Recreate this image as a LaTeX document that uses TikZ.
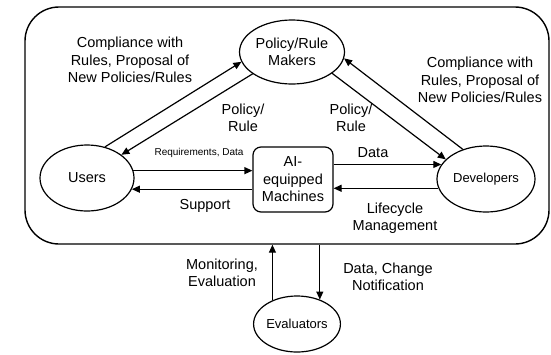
\documentclass[tikz,border=0pt]{standalone}
\usepackage{fontspec}
\setmainfont{Liberation Sans}
\usetikzlibrary{shapes.geometric,arrows.meta}
\begin{document}
\begin{tikzpicture}[x=1pt,y=-1pt,
  ell/.style={draw, ellipse, line width=1.2pt, inner sep=0pt, align=center},
  big/.style={font=\fontsize{14.5}{17.5}\selectfont},
  mid/.style={font=\fontsize{13}{15}\selectfont},
  lab/.style={align=center, inner sep=0pt, big},
  arr/.style={line width=1.2pt, -{Triangle[length=8pt,width=7pt]}},
]
\useasboundingbox (0,0) rectangle (551,354);
\node[draw, line width=1.4pt, rounded corners=34pt, minimum width=524pt, minimum height=237pt, inner sep=0pt] (outer) at (287,125.5) {};
\node[ell, big, minimum width=105pt, minimum height=64pt] (pm) at (292,52) {Policy/Rule\\Makers};
\node[ell, big, minimum width=94pt, minimum height=66pt] (users) at (87,178) {Users};
\node[draw, rounded corners=8pt, line width=1.2pt, minimum width=80pt, minimum height=65pt, inner sep=0pt, align=center, big] (mach) at (293,179.5) {AI-\\equipped\\Machines};
\node[ell, mid, minimum width=98pt, minimum height=66pt] (dev) at (486,179) {Developers};
\node[ell, mid, minimum width=86pt, minimum height=56pt] (eval) at (297,324) {Evaluators};

% diagonal arrows
\draw[arr] (users.60) -- (pm.191);
\draw[arr] (pm.209) -- (users.34);
\draw[arr] (dev.128) -- (pm.-7);
\draw[arr] (pm.-28) -- (dev.154);
% horizontal arrows
\draw[arr] (users.9) -- (users.9 -| mach.west);
\draw[arr] (mach.west |- users.-14) -- (users.-14);
\draw[arr] (mach.east |- dev.162.5) -- (dev.162.5);
\draw[arr] (dev.191) -- (dev.191 -| mach.east);
% evaluators
\draw[arr] (eval.136) -- (eval.136 |- outer.south);
\draw[arr] (eval.47.5 |- outer.south) -- (eval.47.5);

% labels
\node[lab] (l1) at (130,60) {Compliance with\\Rules, Proposal of\\New Policies/Rules};
\node[lab] (l2) at (243,118) {Policy/\\Rule};
\node[lab] (l3) at (351,118) {Policy/\\Rule};
\node[lab] (l4) at (480,80) {Compliance with\\Rules, Proposal of\\New Policies/Rules};
\node[lab, font=\fontsize{10}{12}\selectfont] (l5) at (199,153) {Requirements, Data};
\node[lab] (l6) at (205,206) {Support};
\node[lab] (l7) at (373,153) {Data};
\node[lab] (l8) at (395,218) {Lifecycle\\Management};
\node[lab] (l9) at (222,273) {Monitoring,\\Evaluation};
\node[lab] (l10) at (388,277) {Data, Change\\Notification};
\end{tikzpicture}
\end{document}
